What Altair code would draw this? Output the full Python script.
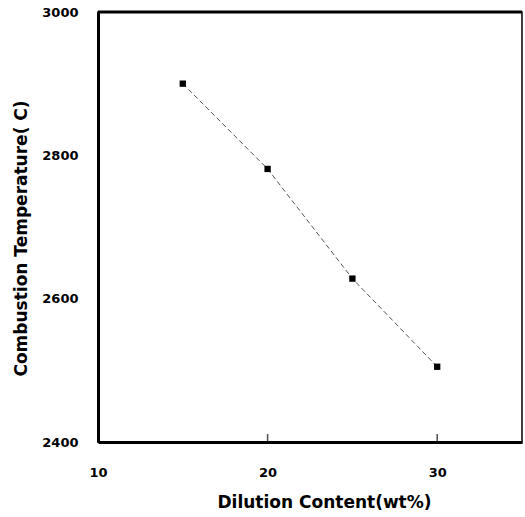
import altair as alt
import pandas as pd

dilution = [15, 20, 25, 30]
temperature = [2900, 2781, 2628, 2505]
tick_positions = [20, 30]
top_value = [3000]

df = pd.DataFrame({"x": dilution, "y": temperature})
ticks_df = pd.DataFrame({"x": tick_positions, "y": [2400] * len(tick_positions)})
top_df = pd.DataFrame({"y": top_value})

font = "DejaVu Sans"

xscale = alt.Scale(domain=[10, 35], nice=False, zero=False)
yscale = alt.Scale(domain=[2400, 3000], nice=False, zero=False)

xaxis = alt.Axis(values=[10, 20, 30], format="d", ticks=False, grid=False,
                 domainColor="black", domainWidth=3, labelPadding=24,
                 labelFont=font, labelFontSize=13, labelFontWeight="bold", labelColor="black",
                 labelFlush=False, labelOverlap=False,
                 title="Dilution  Content(wt%)", titleFont=font, titleFontSize=17,
                 titleFontWeight="bold", titleColor="black", titlePadding=15, titleX=226)
yaxis = alt.Axis(values=[2400, 2600, 2800, 3000], format="d", ticks=False, grid=False,
                 domainColor="black", domainWidth=3, labelPadding=20,
                 labelFont=font, labelFontSize=13, labelFontWeight="bold", labelColor="black",
                 labelFlush=False, labelOverlap=False,
                 title="Combustion Temperature( C)", titleFont=font, titleFontSize=17,
                 titleFontWeight="bold", titleColor="black", titlePadding=11, titleY=226)

line = alt.Chart(df).mark_line(color="#555555", strokeWidth=1, strokeDash=[5, 3]).encode(
    x=alt.X("x:Q", scale=xscale, axis=xaxis),
    y=alt.Y("y:Q", scale=yscale, axis=yaxis),
)
points = alt.Chart(df).mark_square(color="black", size=40, opacity=1).encode(
    x=alt.X("x:Q", scale=xscale),
    y=alt.Y("y:Q", scale=yscale),
)
inner_ticks = alt.Chart(ticks_df).mark_tick(color="black", orient="vertical", size=8,
                                             thickness=1.5, yOffset=-4).encode(
    x=alt.X("x:Q", scale=xscale),
    y=alt.Y("y:Q", scale=yscale),
)
top_rule = alt.Chart(top_df).mark_rule(color="black", strokeWidth=3).encode(
    y=alt.Y("y:Q", scale=yscale),
)

chart = alt.layer(line, points, inner_ticks, top_rule).properties(
    width=424, height=430,
    autosize=alt.AutoSizeParams(type="none"),
    padding={"left": 98, "top": 12, "right": 3, "bottom": 75},
    background="white",
).configure_view(stroke="black", strokeWidth=1.5)

chart.save("out.html", embed_options={"renderer": "svg", "actions": False})
